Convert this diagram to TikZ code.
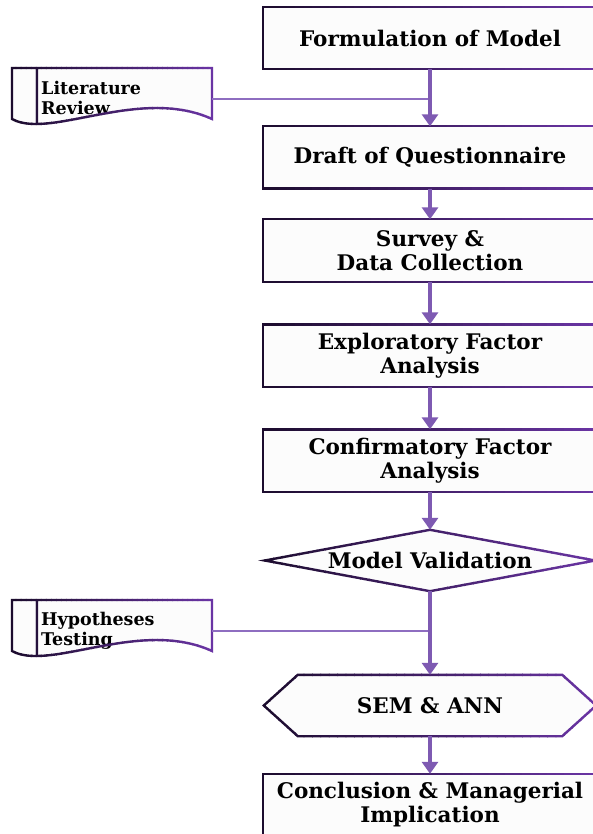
\documentclass[tikz,border=0pt]{standalone}
\usepackage{fontspec}
\setmainfont{DejaVu Serif}
\usetikzlibrary{arrows.meta,calc}

\definecolor{edgeL}{HTML}{1C0C2E}
\definecolor{edgeR}{HTML}{6A34A4}
\definecolor{flowc}{HTML}{7E5AB2}
\definecolor{feedc}{HTML}{8E6DC0}
\definecolor{boxfill}{HTML}{FCFCFC}

% stroke a path with a left-to-right colour gradient (clipped vertical strips)
% #1 = left x, #2 = right x, #3 = path
\newcommand\gradstroke[3]{%
  \foreach \k in {0,...,39}{%
    \pgfmathsetmacro\xa{#1+(#2-#1)*\k/40-0.4}%
    \pgfmathsetmacro\xb{#1+(#2-#1)*(\k+1)/40+0.4}%
    \pgfmathtruncatemacro\pc{100*\k/39}%
    \begin{scope}
      \clip (\xa,-20) rectangle (\xb,860);
      \draw[line width=2.4pt, color=edgeR!\pc!edgeL] #3;
    \end{scope}
  }%
}

\begin{document}
\begin{tikzpicture}[x=1pt,y=-1pt,
  proc/.style={rectangle, fill=boxfill, minimum width=334pt, minimum height=62pt,
    inner sep=0pt, align=center, font=\fontsize{21.5}{24}\selectfont\bfseries},
  decis/.style={proc, fill=none, minimum width=330pt, minimum height=61pt},
  hexa/.style={proc, fill=none, minimum width=332pt, minimum height=61pt},
  doctext/.style={anchor=west, align=left, inner sep=0pt,
    font=\fontsize{17.5}{20}\selectfont\bfseries},
  flow/.style={draw=flowc, line width=3.2pt, -{Triangle[length=12pt,width=16pt]}},
  feed/.style={draw=feedc, line width=2.4pt},
]
\useasboundingbox (0,0) rectangle (593,834);
\clip (0,0) rectangle (593,834);
\fill[white] (0,0) rectangle (593,834);

% ---- main process column ----
\node[proc] (form)  at (430,38)    {Formulation of Model};
\node[proc] (draft) at (430,157.5) {Draft of Questionnaire};
\node[proc] (survey) at (430,250.5) {Survey \&\\Data Collection};
\node[proc] (efa)   at (430,355.5) {Exploratory Factor\\Analysis};
\node[proc] (cfa)   at (430,460.5) {Confirmatory Factor\\Analysis};
\node[proc] (concl) at (430,805)   {Conclusion \& Managerial\\Implication};

% decision diamond
\fill[boxfill] (430,530) -- (595,560.5) -- (430,591) -- (265,560.5) -- cycle;
\node[decis] (valid) at (430,560.5) {Model Validation};

% hexagon
\fill[boxfill] (264,705.5) -- (298,675) -- (562,675) -- (596,705.5) -- (562,736) -- (298,736) -- cycle;
\node[hexa] (sem) at (430,705.5) {SEM \& ANN};

% ---- document shapes ----
\foreach \h/\nm in {68/litdoc, 600/hypdoc}{
  \fill[boxfill] (12,\h) -- (212,\h) -- (212,\h+51)
    .. controls (140,\h+18) and (50,\h+72) .. (12,\h+51) -- cycle;
  \coordinate (\nm) at (212,\h+31);
}
\node[doctext] (lit) at (41,98)  {Literature\\Review};
\node[doctext] (hyp) at (41,631) {Hypotheses\\Testing};

% ---- gradient borders ----
\foreach \n in {form,draft,survey,efa,cfa,concl}{
  \gradstroke{262}{598}{(\n.north west) rectangle (\n.south east)}
}
\gradstroke{256}{604}{(valid.north) -- (valid.east) -- (valid.south) -- (valid.west) -- cycle}
\gradstroke{262}{598}{($(sem.north west)+(34,0)$) -- ($(sem.north east)+(-34,0)$) -- (sem.east)
  -- ($(sem.south east)+(-34,0)$) -- ($(sem.south west)+(34,0)$) -- (sem.west) -- cycle}
\foreach \h in {68,600}{
  \gradstroke{11}{213}{(12,\h) -- (212,\h) -- (212,\h+51)
    .. controls (140,\h+18) and (50,\h+72) .. (12,\h+51) -- cycle
    (37,\h) -- (37,\h+56)}
}

% ---- connectors ----
\draw[feed] (litdoc) -- (litdoc -| form.south);
\draw[feed] (hypdoc) -- (hypdoc -| valid.south);
\draw[flow] (form.south) -- (draft.north);
\draw[flow] (draft) -- (survey);
\draw[flow] (survey) -- (efa);
\draw[flow] (efa) -- (cfa);
\draw[flow] (cfa) -- (valid.north);
\draw[flow] (valid.south) -- (sem.north);
\draw[flow] (sem) -- (concl);
\end{tikzpicture}
\end{document}
